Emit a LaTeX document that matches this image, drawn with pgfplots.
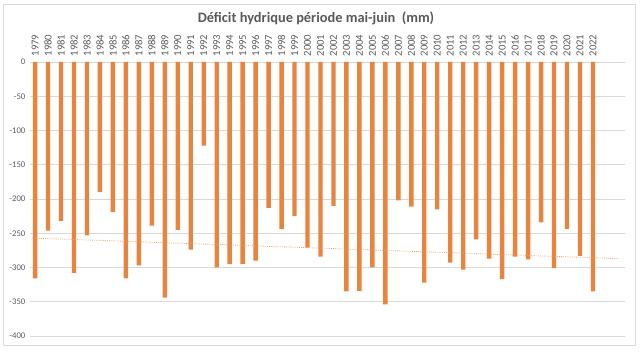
\documentclass[border=0pt]{standalone}
\usepackage{pgfplots}
\pgfplotsset{compat=1.18}
\usepackage{fontspec}
\setmainfont{Carlito}
\definecolor{barc}{HTML}{E9843F}
\definecolor{txt}{HTML}{595959}
\definecolor{gridc}{HTML}{D9D9D9}
\begin{document}
\begin{tikzpicture}
\useasboundingbox (0pt,0pt) rectangle (480pt,264pt);
\draw[gridc, line width=0.6pt] (2.5pt,5pt) rectangle (476.5pt,261pt);
\node[font=\bfseries\fontsize{10.8}{12}\selectfont, text=txt] at (237pt,250pt) {Déficit hydrique période mai-juin\ \ (mm)};
\begin{axis}[
  at={(22.5pt,12pt)}, anchor=south west,
  scale only axis, width=446.25pt, height=205.5pt,
  xmin=-0.39, xmax=45.47, ymin=-400, ymax=0,
  axis line style={draw=none},
  major tick length=0pt,
  ytick={-400,-350,...,0},
  ymajorgrids, grid style={gridc, line width=0.6pt},
  xtick={0,...,43},
  xticklabels={1979,1980,1981,1982,1983,1984,1985,1986,1987,1988,1989,1990,1991,1992,1993,1994,1995,1996,1997,1998,1999,2000,2001,2002,2003,2004,2005,2006,2007,2008,2009,2010,2011,2012,2013,2014,2015,2016,2017,2018,2019,2020,2021,2022},
  xticklabel pos=upper,
  xticklabel style={rotate=90, anchor=west, font=\fontsize{8}{9}\selectfont, text=txt, inner sep=0pt, xshift=4pt},
  yticklabel style={font=\fontsize{6.5}{8}\selectfont, text=txt},
  /pgf/number format/assume math mode=true,
  clip=false,
]
\addplot[ybar, bar width=3.3pt, fill=barc, draw=none] coordinates {
(0,-316) (1,-246) (2,-232) (3,-308) (4,-253) (5,-190) (6,-219) (7,-316) (8,-297) (9,-239)
(10,-344) (11,-245) (12,-274) (13,-122) (14,-300) (15,-295) (16,-295) (17,-290) (18,-213) (19,-244)
(20,-225) (21,-271) (22,-284) (23,-210) (24,-335) (25,-334) (26,-300) (27,-354) (28,-202) (29,-211)
(30,-322) (31,-215) (32,-293) (33,-303) (34,-259) (35,-287) (36,-317) (37,-284) (38,-288) (39,-234)
(40,-301) (41,-244) (42,-283) (43,-335)
};
\addplot[barc!80, densely dotted, line width=0.6pt] coordinates {(-0.2,-257) (44.9,-287)};
\end{axis}
\end{tikzpicture}
\end{document}
